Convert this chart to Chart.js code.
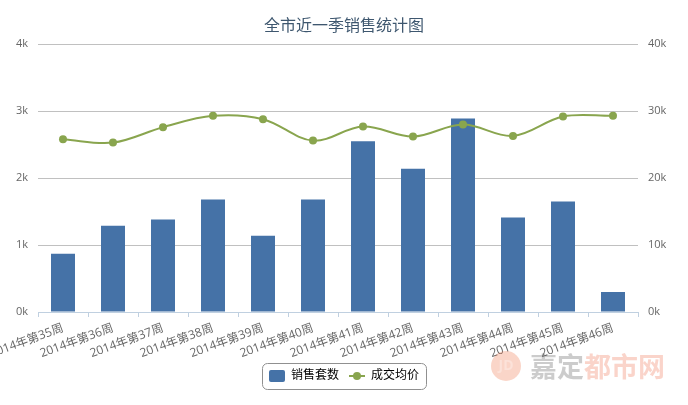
<!DOCTYPE html>
<html>
<head>
<meta charset="utf-8">
<script src="https://cdn.jsdelivr.net/npm/chart.js@4.4.1/dist/chart.umd.min.js"></script>
<style>
  html, body { margin: 0; padding: 0; background: #fff; }
  #wrap { width: 688px; height: 405px; position: relative; }
</style>
</head>
<body>
<div id="wrap"><canvas id="salesChart"></canvas></div>
<script>
// weekly figures
const weeks = ['2014年第35周', '2014年第36周', '2014年第37周', '2014年第38周', '2014年第39周', '2014年第40周',
               '2014年第41周', '2014年第42周', '2014年第43周', '2014年第44周', '2014年第45周', '2014年第46周'];
const salesCount = [870, 1290, 1380, 1680, 1140, 1680, 2550, 2140, 2890, 1410, 1650, 300];
const avgPrice = [25800, 25300, 27600, 29300, 28800, 25600, 27700, 26200, 28000, 26300, 29200, 29300];
const countMax = 4000, countStep = 1000;
const priceMax = 40000, priceStep = 10000;

const titleText = '全市近一季销售统计图';
const countLabel = '销售套数';
const priceLabel = '成交均价';

const blue = '#4572A7';
const green = '#89A54E';

Chart.defaults.font.family = '"Open Sans", "Noto Sans CJK SC", sans-serif';

const kFormat = v => (v / 1000) + 'k';

// draws the legend frame and the line marker, plus the faint watermark
const extras = {
    id: 'extras',
    afterDraw(chart) {
        const ctx = chart.ctx;
        const legend = chart.legend;
        const boxes = legend.legendHitBoxes;
        if (boxes && boxes.length) {
            let l = Infinity, r = -Infinity, t = Infinity, b = -Infinity;
            boxes.forEach(h => {
                l = Math.min(l, h.left); r = Math.max(r, h.left + h.width);
                t = Math.min(t, h.top); b = Math.max(b, h.top + h.height);
            });
            ctx.save();
            ctx.strokeStyle = '#909090';
            ctx.lineWidth = 1;
            ctx.beginPath();
            ctx.roundRect(Math.round(l - 7) + 0.5, Math.round(t - 7) + 0.5, Math.round(r - l + 14), Math.round(b - t + 14), 5);
            ctx.stroke();
            // line + dot marker for the price series
            const h = boxes[1];
            const cy = h.top + h.height / 2;
            ctx.strokeStyle = green;
            ctx.lineWidth = 2;
            ctx.beginPath();
            ctx.moveTo(h.left, cy);
            ctx.lineTo(h.left + 16, cy);
            ctx.stroke();
            ctx.fillStyle = green;
            ctx.beginPath();
            ctx.arc(h.left + 8, cy, 4, 0, Math.PI * 2);
            ctx.fill();
            ctx.restore();
        }
        // watermark
        ctx.save();
        ctx.globalAlpha = 0.3;
        ctx.fillStyle = '#f0734a';
        ctx.beginPath();
        ctx.arc(506, 366, 15, 0, Math.PI * 2);
        ctx.fill();
        ctx.fillStyle = '#fff';
        ctx.font = 'bold 14px "Open Sans", sans-serif';
        ctx.textAlign = 'center';
        ctx.textBaseline = 'middle';
        ctx.fillText('JD', 506, 366);
        ctx.textAlign = 'left';
        ctx.font = 'bold 27px "Noto Sans CJK SC", sans-serif';
        ctx.fillStyle = '#555';
        ctx.fillText('嘉定', 530, 367);
        ctx.fillStyle = '#f07050';
        ctx.fillText('都市网', 584, 367);
        ctx.restore();
    }
};

new Chart(document.getElementById('salesChart'), {
    data: {
        labels: weeks,
        datasets: [
            {
                type: 'bar',
                label: countLabel,
                data: salesCount,
                backgroundColor: blue,
                borderWidth: 0,
                barPercentage: 0.48,
                categoryPercentage: 1,
                yAxisID: 'yCount',
                order: 2
            },
            {
                type: 'line',
                label: priceLabel,
                data: avgPrice,
                borderColor: green,
                backgroundColor: green,
                borderWidth: 2,
                tension: 0.35,
                pointRadius: 4,
                pointHoverRadius: 5,
                pointBorderWidth: 0,
                pointBackgroundColor: green,
                fill: false,
                yAxisID: 'yPrice',
                order: 1
            }
        ]
    },
    options: {
        responsive: true,
        maintainAspectRatio: false,
        animation: false,
        layout: { padding: { left: 0, right: 0, top: 0, bottom: 13 } },
        scales: {
            x: {
                offset: true,
                grid: { drawOnChartArea: false, drawTicks: true, tickLength: 5, color: '#C0D0E0', offset: true },
                border: { display: true, color: '#C0D0E0' },
                ticks: {
                    color: '#666', font: { size: 12 }, padding: 4,
                    minRotation: 20, maxRotation: 20, autoSkip: false
                },
                afterFit(scale) {
                    scale.paddingLeft = 0;
                    scale.paddingRight = 0;
                    scale.height = 48;
                }
            },
            yCount: {
                position: 'left',
                min: 0, max: countMax,
                grid: { color: '#C0C0C0', drawTicks: false },
                border: { display: false },
                ticks: { stepSize: countStep, color: '#666', font: { size: 11 }, padding: 10, callback: kFormat },
                afterFit(scale) { scale.width = 38; }
            },
            yPrice: {
                position: 'right',
                min: 0, max: priceMax,
                grid: { drawOnChartArea: false, drawTicks: false },
                border: { display: false },
                ticks: { stepSize: priceStep, color: '#666', font: { size: 11 }, padding: 10, callback: kFormat },
                afterFit(scale) { scale.width = 50; }
            }
        },
        plugins: {
            title: {
                display: true,
                text: titleText,
                color: '#3E576F',
                font: { size: 16, weight: 'normal' },
                padding: { top: 17, bottom: 8 }
            },
            legend: {
                display: true,
                position: 'bottom',
                labels: {
                    color: '#3E576F',
                    font: { size: 12 },
                    boxWidth: 16,
                    boxHeight: 12,
                    padding: 10,
                    generateLabels() {
                        return [
                            { text: countLabel, fillStyle: blue, strokeStyle: blue, lineWidth: 0, datasetIndex: 0, borderRadius: 2 },
                            { text: priceLabel, fillStyle: 'rgba(0,0,0,0)', strokeStyle: 'rgba(0,0,0,0)', lineWidth: 0, datasetIndex: 1 }
                        ];
                    }
                }
            },
            tooltip: { enabled: true }
        }
    },
    plugins: [extras]
});
</script>
</body>
</html>
